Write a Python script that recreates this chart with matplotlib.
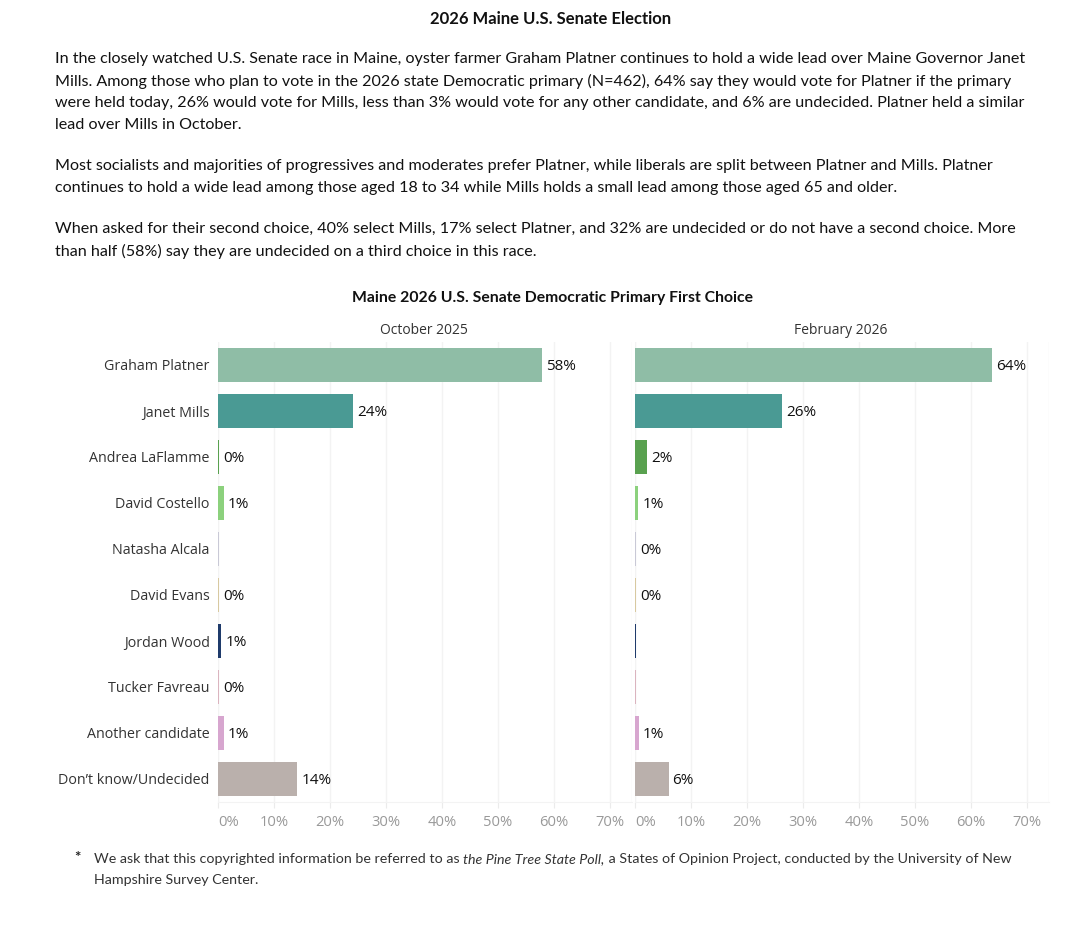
import matplotlib
matplotlib.use('Agg')
from matplotlib import pyplot as plt

W, H = 1086, 941

candidates = ['Graham Platner', 'Janet Mills', 'Andrea LaFlamme', 'David Costello',
              'Natasha Alcala', 'David Evans', 'Jordan Wood', 'Tucker Favreau',
              'Another candidate', 'Don\u2019t know/Undecided']
colors = ['#8fbda6', '#4a9a94', '#59a14f', '#8cd17d', '#c9c9d6',
          '#d8c9a0', '#1f3b6b', '#dbb4bf', '#d7a6cf', '#bab0ac']

oct_values = [57.9, 24.2, 0.2, 1.1, 0.1, 0.2, 0.6, 0.2, 1.0, 14.2]
oct_labels = ['58%', '24%', '0%', '1%', '', '0%', '1%', '0%', '1%', '14%']
feb_values = [63.9, 26.3, 2.2, 0.6, 0.2, 0.2, 0.2, 0.2, 0.7, 6.0]
feb_labels = ['64%', '26%', '2%', '1%', '0%', '0%', '', '', '1%', '6%']

ticks = [0, 10, 20, 30, 40, 50, 60, 70]
tick_labels = ['0%', '10%', '20%', '30%', '40%', '50%', '60%', '70%']

title = '2026 Maine U.S. Senate Election'
paragraph_lines = [
    'In the closely watched U.S. Senate race in Maine, oyster farmer Graham Platner continues to hold a wide lead over Maine Governor Janet',
    'Mills. Among those who plan to vote in the 2026 state Democratic primary (N=462), 64% say they would vote for Platner if the primary',
    'were held today, 26% would vote for Mills, less than 3% would vote for any other candidate, and 6% are undecided. Platner held a similar',
    'lead over Mills in October.',
    None,
    'Most socialists and majorities of progressives and moderates prefer Platner, while liberals are split between Platner and Mills. Platner',
    'continues to hold a wide lead among those aged 18 to 34 while Mills holds a small lead among those aged 65 and older.',
    None,
    'When asked for their second choice, 40% select Mills, 17% select Platner, and 32% are undecided or do not have a second choice. More',
    'than half (58%) say they are undecided on a third choice in this race.',
]

TEXT_FONT = ['Lato', 'DejaVu Sans']
CHART_FONT = ['Open Sans', 'DejaVu Sans']


def fx(x):
    return x / W


def fy(y):
    return 1 - y / H


fig = plt.figure(figsize=(W / 100, H / 100), dpi=100)
fig.patch.set_facecolor('white')

fig.text(fx(551), fy(19), title, ha='center', va='center', fontsize=12,
         fontweight='bold', family=TEXT_FONT, color='#111111')

y = 59
for line in paragraph_lines:
    if line is None:
        y += 19
        continue
    fig.text(fx(55), fy(y), line, ha='left', va='center', fontsize=11.6,
             family=TEXT_FONT, color='#111111')
    y += 22

fig.text(fx(552), fy(298), 'Maine 2026 U.S. Senate Democratic Primary First Choice',
         ha='center', va='center', fontsize=11.3, fontweight='bold',
         family=TEXT_FONT, color='#111111')

panels = [('October 2025', 218, oct_values, oct_labels),
          ('February 2026', 635, feb_values, feb_labels)]
ax_w = 414
ax_top, ax_bot = 342, 802

for i, (name, left, values, labels) in enumerate(panels):
    ax = fig.add_axes([fx(left), fy(ax_bot), ax_w / W, (ax_bot - ax_top) / H])
    ypos = list(range(len(candidates)))
    ax.barh(ypos, values, height=0.74, color=colors, zorder=3)
    for yy, v, lab in zip(ypos, values, labels):
        if lab:
            ax.text(v + 0.7, yy + 0.03, lab, ha='left', va='center', fontsize=11,
                    family=CHART_FONT, color='#111111', zorder=4)
    ax.set_xlim(0, 74)
    ax.set_ylim(len(candidates) - 0.5, -0.5)
    ax.set_xticks(ticks)
    ax.set_xticklabels(tick_labels, family=CHART_FONT, fontsize=10.6, color='#999999')
    for t in ax.get_xticklabels():
        if t.get_text() == '0%':
            t.set_horizontalalignment('left')
            t.set_x(0.3)
    ax.tick_params(axis='x', length=4, color='#ebebeb', pad=5)
    ax.xaxis.grid(True, color='#f3f3f3', linewidth=1, zorder=0)
    ax.axvline(0, color='#e0e0e0', linewidth=0.8, zorder=1)
    ax.axvline(74, color='#f3f3f3', linewidth=1, zorder=1)
    for s in ['top', 'right', 'left']:
        ax.spines[s].set_visible(False)
    ax.spines['bottom'].set_color('#f3f3f3')
    ax.set_yticks(ypos)
    if i == 0:
        ax.set_yticklabels(candidates, family=CHART_FONT, fontsize=10.3, color='#333333')
        ax.tick_params(axis='y', length=0, pad=6)
    else:
        ax.set_yticklabels([])
        ax.tick_params(axis='y', length=0)
    fig.text(fx(left + ax_w / 2 - 1), fy(330), name, ha='center', va='center',
             fontsize=10, family=CHART_FONT, color='#333333')

# footnote with italic piece
fig.text(fx(77), fy(858), '*', ha='center', va='center', fontsize=11,
         fontweight='bold', family=TEXT_FONT, color='#222222')
t1 = fig.text(fx(94), fy(859), 'We ask that this copyrighted information be referred to as ',
              ha='left', va='center', fontsize=10.3, family=TEXT_FONT, color='#333333')
t2 = fig.text(0, 0, 'the Pine Tree State Poll,', fontsize=10.3, family=TEXT_FONT,
              style='italic', color='#333333', ha='left', va='center')
fig.canvas.draw()
r = fig.canvas.get_renderer()
bb = t1.get_window_extent(r)
t2.set_position((bb.x1 / W, fy(859)))
bb2 = t2.get_window_extent(r)
fig.text(bb2.x1 / W, fy(859),
         ' a States of Opinion Project, conducted by the University of New',
         ha='left', va='center', fontsize=10.3, family=TEXT_FONT, color='#333333')
fig.text(fx(94), fy(880), 'Hampshire Survey Center.', ha='left', va='center',
         fontsize=10.3, family=TEXT_FONT, color='#333333')

fig.savefig('out.png', dpi=100, facecolor='white')
